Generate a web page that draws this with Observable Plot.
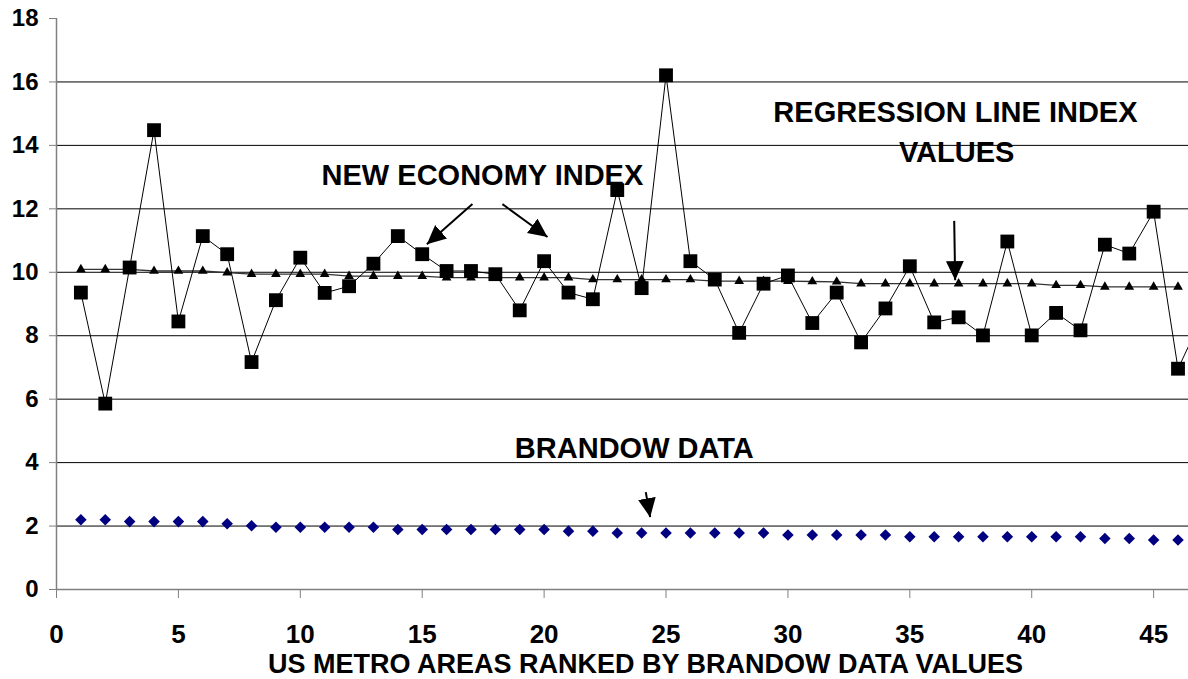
<!DOCTYPE html>
<html><head><meta charset="utf-8">
<script src="https://cdn.jsdelivr.net/npm/d3@7"></script>
<script src="https://cdn.jsdelivr.net/npm/@observablehq/plot@0.6"></script>
<style>
html,body{margin:0;padding:0;background:#fff;overflow:hidden;}
#wrap{width:1188px;height:679px;overflow:hidden;position:relative;background:#fff;}
</style></head><body><div id="wrap"></div>
<script>
// ---- data ----
const newEconomyIndex = [9.36, 5.86, 10.15, 14.48, 8.45, 11.14, 10.57, 7.17, 9.12, 10.46,
  9.35, 9.56, 10.27, 11.14, 10.57, 10.04, 10.04, 9.94, 8.80, 10.35,
  9.36, 9.15, 12.59, 9.50, 16.21, 10.35, 9.77, 8.09, 9.64, 9.90,
  8.40, 9.36, 7.79, 8.86, 10.19, 8.42, 8.58, 8.01, 10.97, 8.01,
  8.72, 8.17, 10.87, 10.59, 11.91, 6.96, 8.60];
const regressionIndex = [10.09, 10.09, 10.09, 10.04, 10.04, 10.04, 9.99, 9.94, 9.94, 9.94,
  9.94, 9.88, 9.88, 9.88, 9.88, 9.83, 9.83, 9.83, 9.83, 9.83,
  9.83, 9.77, 9.77, 9.77, 9.77, 9.77, 9.72, 9.72, 9.72, 9.72,
  9.71, 9.70, 9.64, 9.64, 9.64, 9.64, 9.64, 9.64, 9.64, 9.64,
  9.59, 9.59, 9.54, 9.54, 9.54, 9.54];
const brandowData = [2.20, 2.20, 2.14, 2.14, 2.14, 2.14, 2.07, 2.01, 1.96, 1.96,
  1.96, 1.96, 1.96, 1.89, 1.89, 1.89, 1.89, 1.89, 1.89, 1.89,
  1.84, 1.84, 1.78, 1.78, 1.78, 1.78, 1.78, 1.78, 1.78, 1.72,
  1.72, 1.72, 1.72, 1.72, 1.66, 1.66, 1.66, 1.66, 1.66, 1.66,
  1.66, 1.66, 1.61, 1.61, 1.56, 1.56];
const xTicks = [0, 5, 10, 15, 20, 25, 30, 35, 40, 45];
const yTicks = [0, 2, 4, 6, 8, 10, 12, 14, 16, 18];
const gridValues = [2, 4, 6, 8, 10, 12, 14, 16];
const xTitle = "US METRO AREAS RANKED BY BRANDOW DATA VALUES";
const annotationText = ["NEW ECONOMY INDEX", "REGRESSION LINE INDEX", "VALUES", "BRANDOW DATA"];
const annotationX = [17.47, 36.87, 36.92, 23.70];
const annotationY = [12.74, 14.74, 13.48, 4.13];
const arrowX1 = [17.06, 18.29, 36.82, 24.17];
const arrowY1 = [12.15, 12.15, 11.62, 3.07];
const arrowX2 = [15.19, 20.14, 36.86, 24.35];
const arrowY2 = [10.88, 11.11, 9.75, 2.28];

// ---- tables built from the arrays ----
const neRows = newEconomyIndex.map((v, i) => ({rank: i + 1, value: v}));
const regRows = regressionIndex.map((v, i) => ({rank: i + 1, value: v}));
const brRows = brandowData.map((v, i) => ({rank: i + 1, value: v}));
const labels = annotationText.map((t, i) => ({text: t, x: annotationX[i], y: annotationY[i]}));
const arrows = arrowX1.map((x, i) => ({x1: x, y1: arrowY1[i], x2: arrowX2[i], y2: arrowY2[i]}));

const FONT = "'Liberation Sans', Arial, Helvetica, sans-serif";

const plot = Plot.plot({
  width: 1188,
  height: 679,
  marginLeft: 56,
  marginRight: 0,
  marginTop: 18,
  marginBottom: 90,
  style: {fontFamily: FONT, background: "white", color: "black"},
  x: {domain: [0, 46.43]},
  y: {domain: [0, 18]},
  marks: [
    Plot.ruleY(gridValues, {stroke: "#000", strokeWidth: 1}),
    Plot.ruleY([0], {stroke: "#808080", strokeWidth: 1.5}),
    Plot.ruleX([0], {y1: 0, y2: 18, stroke: "#808080", strokeWidth: 1.5}),
    Plot.axisY(yTicks, {tickSize: 7, tickPadding: 11, fontSize: 24, fontWeight: "bold",
      stroke: "#808080", fill: "black", label: null, tickFormat: d => String(d)}),
    Plot.axisX(xTicks, {tickSize: 9, tickPadding: 26, fontSize: 26, fontWeight: "bold",
      stroke: "#808080", fill: "black", label: null, tickFormat: d => String(d)}),
    Plot.line(regRows, {x: "rank", y: "value", stroke: "#333", strokeWidth: 1.3}),
    Plot.line(neRows, {x: "rank", y: "value", stroke: "#000", strokeWidth: 1, clip: true}),
    Plot.dot(regRows, {x: "rank", y: "value", symbol: "triangle", r: 3.6, fill: "#000", stroke: "none"}),
    Plot.dot(neRows.slice(0, 46), {x: "rank", y: "value", symbol: "square", r: 7.8, fill: "#000", stroke: "none"}),
    Plot.dot(brRows, {x: "rank", y: "value", symbol: "diamond2", r: 5.2, fill: "#000080", stroke: "none"}),
    Plot.link(arrows, {x1: "x1", y1: "y1", x2: "x2", y2: "y2", stroke: "#000", strokeWidth: 2}),
    Plot.text(labels, {x: "x", y: "y", text: "text", textAnchor: "middle", lineAnchor: "bottom",
      fontSize: 29, fontWeight: "bold", fill: "#000"}),
    Plot.text([xTitle], {text: d => d, frameAnchor: "bottom", dx: 23, dy: 83, lineAnchor: "bottom",
      fontSize: 27, fontWeight: "bold", fill: "#000"})
  ]
});

// filled arrow heads on the annotation links
const ns = "http://www.w3.org/2000/svg";
const defs = document.createElementNS(ns, "defs");
const marker = document.createElementNS(ns, "marker");
marker.setAttribute("id", "filledArrow");
marker.setAttribute("viewBox", "0 0 10 10");
marker.setAttribute("refX", "10");
marker.setAttribute("refY", "5");
marker.setAttribute("markerUnits", "userSpaceOnUse");
marker.setAttribute("markerWidth", "19");
marker.setAttribute("markerHeight", "19");
marker.setAttribute("orient", "auto");
const head = document.createElementNS(ns, "path");
head.setAttribute("d", "M0,0.3L10,5L0,9.7Z");
head.setAttribute("fill", "#000");
marker.appendChild(head);
defs.appendChild(marker);
plot.insertBefore(defs, plot.firstChild);
plot.querySelectorAll('g[aria-label="link"] path').forEach(p => p.setAttribute("marker-end", "url(#filledArrow)"));

document.getElementById("wrap").appendChild(plot);
</script></body></html>
